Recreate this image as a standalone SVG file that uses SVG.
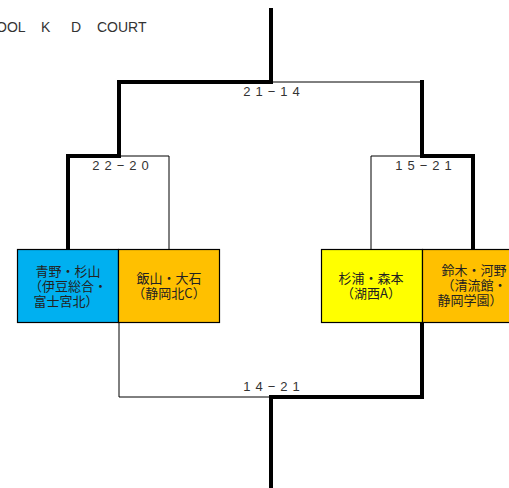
<svg xmlns="http://www.w3.org/2000/svg" width="509" height="488" viewBox="0 0 509 488">
<style>
.thick{stroke:#000;stroke-width:4;fill:none;stroke-linecap:square}
.thin{stroke:#000;stroke-width:1;fill:none}
.box{stroke:#000;stroke-width:1.2}
.name{font-family:"Noto Sans CJK JP","Noto Sans CJK SC",sans-serif;font-size:13px;fill:#222;text-anchor:middle}
.score{font-family:"Liberation Sans","DejaVu Sans",sans-serif;font-size:13px;fill:#333;text-anchor:middle;letter-spacing:5px}
.title{font-family:"Liberation Sans","DejaVu Sans",sans-serif;font-size:14px;fill:#333}
</style>
<rect width="509" height="488" fill="#fff"/>
<g id="title">
<text class="title" x="-4" y="32">OOL</text>
<text class="title" x="41" y="32">K</text>
<text class="title" x="71" y="32">D</text>
<text class="title" x="97" y="32">COURT</text>
</g>
<g id="connectors">
<polyline class="thick" points="271,10 271,82 119,82 119,156 68,156 68,249"/>
<polyline class="thin" points="271,82 422,82"/>
<polyline class="thick" points="422,82 422,156 473,156 473,249"/>
<polyline class="thin" points="119,156 169,156 169,249"/>
<polyline class="thin" points="422,156 371,156 371,249"/>
<polyline class="thin" points="119,323 119,397 271,397"/>
<polyline class="thick" points="422,323 422,397 271,397 271,488"/>
<text class="score" x="274" y="96">21−14</text>
<text class="score" x="123" y="170">22−20</text>
<text class="score" x="426" y="170">15−21</text>
<text class="score" x="274" y="391">14−21</text>
</g>
<g id="team1">
<rect class="box" x="17.5" y="249.5" width="101" height="73" fill="#00B0F0"/>
<text class="name" y="276"><tspan x="68">青野・杉山</tspan><tspan x="68" dy="15">（伊豆総合・</tspan><tspan x="66" dy="15">富士宮北）</tspan></text>
</g>
<g id="team2">
<rect class="box" x="118.5" y="249.5" width="101" height="73" fill="#FFC000"/>
<text class="name" y="283"><tspan x="169">飯山・大石</tspan><tspan x="169" dy="15">（静岡北C）</tspan></text>
</g>
<g id="team3">
<rect class="box" x="321.5" y="249.5" width="101" height="73" fill="#FFFF00"/>
<text class="name" y="283"><tspan x="371">杉浦・森本</tspan><tspan x="371" dy="15">（湖西A）</tspan></text>
</g>
<g id="team4">
<rect class="box" x="422.5" y="249.5" width="101" height="73" fill="#FFC000"/>
<text class="name" y="275"><tspan x="474">鈴木・河野</tspan><tspan x="474" dy="15">（清流館・</tspan><tspan x="470" dy="15">静岡学園）</tspan></text>
</g>
</svg>
